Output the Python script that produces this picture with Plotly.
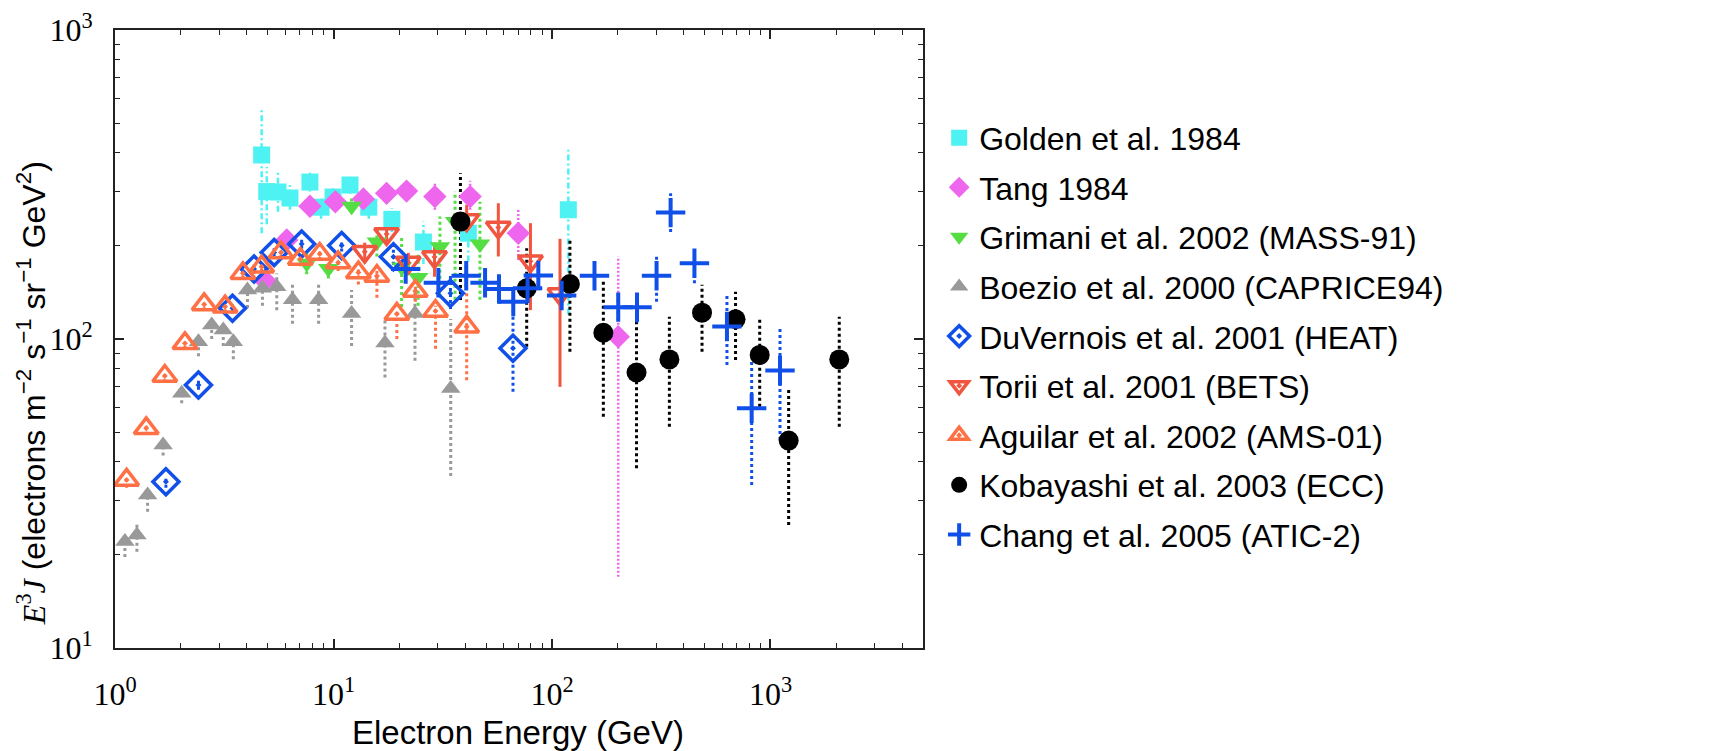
import plotly.graph_objects as go

# ---- Golden et al. 1984 ----
golden_E = [4.69, 4.95, 5.57, 6.32, 7.80, 8.77, 9.95, 11.9, 14.5, 18.5, 25.8, 41.4, 118.8]
golden_v = [394, 300, 299, 286, 322, 267, 288, 315, 267, 244, 206, 220, 262]
golden_hi = [560, 360, 352, 315, 345, 290, 310, 335, 290, 265, 240, 250, 410]
golden_lo = [220, 235, 258, 262, 300, 245, 265, 295, 245, 222, 175, 178, 120]

# ---- Tang 1984 ----
tang_E = [4.86, 6.11, 7.80, 10.2, 13.7, 17.5, 21.6, 29.1, 42.2, 70.1, 201]
tang_v = [154.5, 209, 269, 278, 284, 296, 301, 289, 289, 220, 101.7]
tang_hi = [162, 222, 282, 292, 300, 312, 318, 322, 325, 262, 185]
tang_lo = [147, 197, 256, 264, 268, 280, 286, 262, 262, 180, 17]

# ---- Grimani et al. 2002 (MASS-91) ----
grimani_E = [7.54, 9.47, 12.1, 15.8, 20.5, 24.4, 30.7, 36.0, 46.8]
grimani_v = [176, 169, 269, 206, 171, 158, 199, 240, 203]
grimani_hi = [190, 182, 285, 228, 214, 190, 249, 300, 278]
grimani_lo = [162, 157, 255, 185, 127, 128, 137, 134, 134]

# ---- Boezio et al. 2000 (CAPRICE94) ----
boezio_E = [1.11, 1.26, 1.41, 1.66, 2.02, 2.41, 2.77, 3.13, 3.48, 4.04, 4.73, 5.50,
            6.49, 8.55, 12.1, 17.2, 23.6, 34.4]
boezio_v = [22.1, 23.2, 31.3, 45.4, 66.7, 98, 111, 107, 98, 144, 146, 147.6,
            134, 134, 121, 97, 121, 69.2]
boezio_hi = [23.5, 25.5, 33, 47, 69, 102, 116, 112, 102, 150, 152, 163,
             150, 150, 144, 117, 144, 116]
boezio_lo = [19.7, 20.5, 27.6, 42, 62, 88, 100, 95, 86, 126, 128, 124,
             112, 112, 95, 75, 85, 36]

# ---- DuVernois et al. 2001 (HEAT) ----
heat_E = [1.71, 2.41, 3.45, 4.33, 5.35, 7.15, 10.9, 18.8, 34.3, 66.3]
heat_v = [34.5, 71, 125.7, 168.5, 190.6, 203, 200.7, 184.5, 140.6, 93.3]
heat_hi = [36, 73.5, 130, 174, 197, 210, 210, 195, 160, 118]
heat_lo = [33, 68.5, 121, 163, 184, 196, 192, 174, 125, 67.5]

# ---- Torii et al. 2001 (BETS) ----
bets_E = [13.9, 17.5, 22.0, 29.0, 40.7, 56.8, 79.7, 108.8]
bets_v = [191.7, 218.8, 176.9, 184.2, 242.7, 229.6, 178.6, 139.8]
bets_hi = [205, 232, 190, 205, 272, 275, 237, 211]
bets_lo = [178, 202, 165, 159, 209, 185, 124, 70]

# ---- Aguilar et al. 2002 (AMS-01) ----
ams_E = [1.13, 1.39, 1.69, 2.09, 2.56, 3.19, 3.85, 4.69, 5.75, 7.05, 8.65, 10.5,
         13.0, 15.8, 19.5, 23.7, 29.3, 40.7]
ams_v = [35.0, 51.4, 75.9, 96.8, 129.4, 127.2, 163.2, 171.4, 190.6, 181.5, 188.4, 176.9,
         164.1, 159.9, 120.5, 142.9, 123.2, 109.6]
ams_hi = [36, 52.5, 77, 98, 131, 129, 165, 174, 193, 185, 192, 182,
          170, 166, 125, 150, 128, 141]
ams_lo = [33, 49, 72.5, 93, 124, 122, 157, 165, 183, 172, 180, 166,
          150, 136, 100, 132, 93, 73.6]

# ---- Kobayashi et al. 2003 (ECC) ----
ecc_E = [38.1, 76.6, 120.8, 171.8, 243.7, 344.6, 486, 692, 892.5, 1211, 2064]
ecc_v = [239.9, 145.9, 150.7, 104.8, 77.9, 85.9, 121.7, 115.9, 88.8, 46.9, 85.9]
ecc_hi = [343.6, 196.6, 209, 153.3, 118, 118, 149.7, 142.3, 118, 68.4, 118]
ecc_lo = [133.7, 94.4, 91, 56, 38.2, 52, 91, 85.5, 60.4, 25, 52]

# ---- Chang et al. 2005 (ATIC-2) ----
atic_E = [21.4, 30.2, 40.5, 49.4, 57.2, 66.5, 77.3, 86.6, 110.7, 156.5, 201, 245,
          301, 349, 448.7, 632, 820, 1105.5]
atic_v = [168.5, 152, 160.2, 152, 145.2, 132.1, 145.9, 160.5, 138.3, 160.2, 126.8, 126.8,
          160.2, 256.5, 175.8, 109.8, 59.7, 79.1]
atic_hi = [180, 162, 175, 162, 155, 142, 158, 172, 150, 172, 140, 140,
           184.5, 296, 194, 138.6, 85.5, 108.3]
atic_lo = [158, 143, 148, 143, 136, 122, 135, 150, 128, 149, 115, 113,
           132, 222, 151.5, 82.4, 33.7, 47.1]

# axis ticks
x_ticks = [1, 10, 100, 1000]
x_labels = ["10<sup>0</sup>", "10<sup>1</sup>", "10<sup>2</sup>", "10<sup>3</sup>"]
y_ticks = [10, 100, 1000]
y_labels = ["10<sup>1</sup>", "10<sup>2</sup>", "10<sup>3</sup>"]
x_minor = [m * 10 ** d for d in range(0, 4) for m in range(2, 10) if m * 10 ** d <= 5000]
y_minor = [m * 10 ** d for d in range(1, 3) for m in range(2, 10)]

CYAN = "#4EF2F2"
VIOLET = "#EE66EE"
GREEN = "#55DD44"
GRAY = "#999999"
BLUE = "#1150E8"
RED = "#F05540"
ORANGE = "#FF7045"

series = [
    # name, E, v, hi, lo, color, symbol, size, line width, error dash, error width
    ("Golden et al. 1984", golden_E, golden_v, golden_hi, golden_lo, CYAN, "square", 17, 0, "6px,3px,2px,3px", 2.5),
    ("Tang 1984", tang_E, tang_v, tang_hi, tang_lo, VIOLET, "diamond", 18, 0, "2px,2px", 2.5),
    ("Grimani et al. 2002 (MASS-91)", grimani_E, grimani_v, grimani_hi, grimani_lo, GREEN, "triangle-down", 18, 0, "3px,3px", 3),
    ("Boezio et al. 2000 (CAPRICE94)", boezio_E, boezio_v, boezio_hi, boezio_lo, GRAY, "triangle-up", 17, 0, "3px,3px", 3),
    ("DuVernois et al. 2001 (HEAT)", heat_E, heat_v, heat_hi, heat_lo, BLUE, "diamond-open-dot", 20, 3.5, "3px,3px", 3),
    ("Torii et al. 2001 (BETS)", bets_E, bets_v, bets_hi, bets_lo, RED, "triangle-down-open-dot", 21, 3.5, "solid", 3),
    ("Aguilar et al. 2002 (AMS-01)", ams_E, ams_v, ams_hi, ams_lo, ORANGE, "triangle-up-open-dot", 21, 3.5, "3px,3px", 3),
    ("Kobayashi et al. 2003 (ECC)", ecc_E, ecc_v, ecc_hi, ecc_lo, "black", "circle", 20, 0, "3px,3px", 3),
    ("Chang et al. 2005 (ATIC-2)", atic_E, atic_v, atic_hi, atic_lo, BLUE, "cross-thin", 21, 4, "3px,3px", 3),
]

fig = go.Figure()

# vertical error segments, drawn first so the markers sit on top
for name, E, v, hi, lo, color, sym, size, lw, edash, ew in series:
    xs, ys = [], []
    for e, h, l in zip(E, hi, lo):
        xs += [e, e, None]
        ys += [l, h, None]
    fig.add_trace(go.Scatter(
        x=xs, y=ys, mode="lines", showlegend=False, hoverinfo="skip",
        line=dict(color=color, width=ew, dash=edash),
    ))

for i, (name, E, v, hi, lo, color, sym, size, lw, edash, ew) in enumerate(series):
    if sym.endswith("open-dot") or sym == "cross-thin":
        marker = dict(symbol=sym, size=size, color=color, line=dict(color=color, width=lw))
    else:
        marker = dict(symbol=sym, size=size, color=color, line=dict(width=0))
    fig.add_trace(go.Scatter(x=E, y=v, mode="markers", name=name, marker=marker,
                             legendgroup=f"g{i}"))

tick_font = dict(family="Liberation Serif, Times New Roman, serif", size=32, color="black")
axis_common = dict(
    showline=True, linecolor="#222", linewidth=2, mirror="ticks",
    ticks="inside", ticklen=9, tickwidth=1.5, tickcolor="#222",
    showgrid=False, zeroline=False, tickfont=tick_font, automargin=False,
)

fig.update_xaxes(type="log", range=[0, 3.698], tickmode="array", tickvals=x_ticks,
                 ticktext=x_labels, ticklabelstandoff=17,
                 minor=dict(tickmode="array", tickvals=x_minor, ticks="inside", ticklen=5,
                            tickwidth=1.2, tickcolor="#222", showgrid=False),
                 **axis_common)
fig.update_yaxes(type="log", range=[1, 3], tickmode="array", tickvals=y_ticks,
                 ticktext=y_labels, ticklabelstandoff=14,
                 minor=dict(tickmode="array", tickvals=y_minor, ticks="inside", ticklen=5,
                            tickwidth=1.2, tickcolor="#222", showgrid=False),
                 **axis_common)

sans = "Liberation Sans, Arial, Helvetica, sans-serif"
fig.add_annotation(
    text="Electron Energy (GeV)", xref="paper", yref="paper", x=0.499, y=-0.1375,
    xanchor="center", yanchor="middle", showarrow=False,
    font=dict(family=sans, size=33, color="black"),
)
fig.add_annotation(
    text=("<span style='font-family:Liberation Serif'><i>E</i><sup>3</sup><i>J</i></span>"
          " (electrons m<sup>\u22122</sup> s<sup>\u22121</sup> sr<sup>\u22121</sup> GeV<sup>2</sup>)"),
    xref="paper", yref="paper", x=-0.103, y=0.412, textangle=-90,
    xanchor="center", yanchor="middle", showarrow=False,
    font=dict(family=sans, size=32, color="black"),
)

fig.update_layout(
    width=1726, height=751,
    margin=dict(l=115, r=803, t=30, b=103, autoexpand=False),
    paper_bgcolor="white", plot_bgcolor="white",
    showlegend=True,
    legend=dict(
        x=1.02, y=0.87, xanchor="left", yanchor="top",
        font=dict(family=sans, size=32, color="black"),
        bgcolor="rgba(0,0,0,0)", borderwidth=0, tracegroupgap=5,
    ),
)

fig.write_html("out.html")
